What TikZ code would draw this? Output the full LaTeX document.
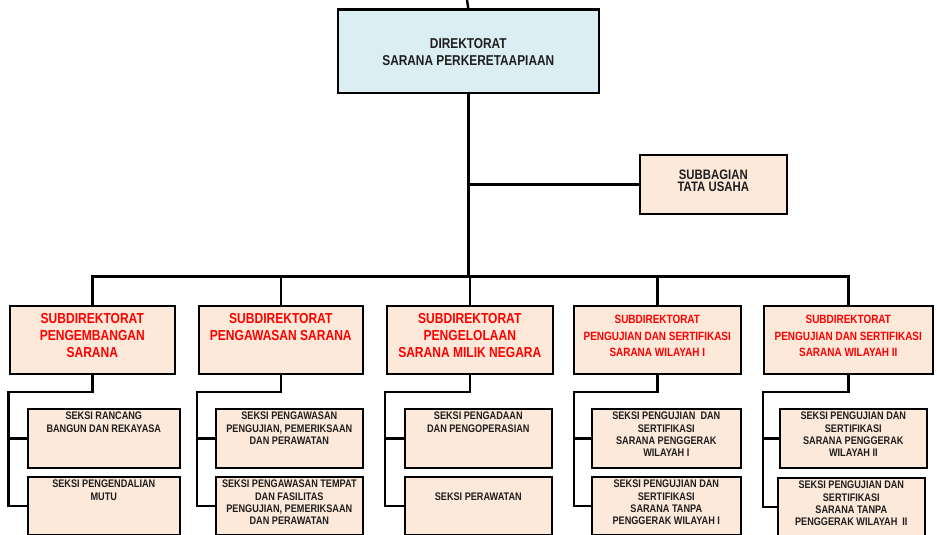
\documentclass[tikz,border=0pt]{standalone}
\usepackage{fontspec}
\setmainfont{Liberation Sans}[FakeStretch=0.83]
\definecolor{peach}{HTML}{FDE9D9}
\definecolor{lblue}{HTML}{DBEEF4}
\definecolor{dtext}{HTML}{1E1E1E}
\definecolor{rtext}{HTML}{FF0000}
\begin{document}
\begin{tikzpicture}[x=1pt,y=-1pt,
  box/.style={draw=black, line width=2.6pt, inner sep=0pt, anchor=north west, fill=peach},
  dirbox/.style={box, fill=lblue},
  conn/.style={draw=black, line width=2.4pt},
  txt/.style={inner sep=0pt, align=center, anchor=north, text=dtext},
  redbig/.style={txt, text=rtext, font=\bfseries\fontsize{14.5}{17}\selectfont},
  redsmall/.style={txt, text=rtext, font=\bfseries\fontsize{12}{16.5}\selectfont},
  seksitxt/.style={txt, font=\bfseries\fontsize{11}{12.3}\selectfont}
]
\useasboundingbox (0,0) rectangle (937,535);
\clip (0,0) rectangle (937,535);
\fill[white] (0,0) rectangle (937,535);

% top level
\node[dirbox, minimum width=261pt, minimum height=83pt] (dir) at (336.5,8.5) {};
\node[txt, anchor=center, font=\bfseries\fontsize{14.3}{17}\selectfont] (dirt) at ([yshift=-1pt]dir.center) {DIREKTORAT\\SARANA PERKERETAAPIAAN};

\node[box, minimum width=147pt, minimum height=59pt] (sub) at (638.5,153.5) {};
\node[txt, anchor=center, font=\bfseries\fontsize{13.7}{12}\selectfont] (subt) at ([yshift=4pt]sub.center) {SUBBAGIAN\\TATA USAHA};

% subdirectorates
\node[box, minimum width=165pt, minimum height=68pt] (sd1) at (8.5,304.5) {};
\node[box, minimum width=164pt, minimum height=68pt] (sd2) at (197.5,304.5) {};
\node[box, minimum width=166pt, minimum height=68pt] (sd3) at (385.5,304.5) {};
\node[box, minimum width=167pt, minimum height=68pt] (sd4) at (572.5,304.5) {};
\node[box, minimum width=169pt, minimum height=68pt] (sd5) at (762.5,304.5) {};

\node[redbig] (sd1t) at ([yshift=-8.5pt]sd1.north) {SUBDIREKTORAT\\PENGEMBANGAN\\SARANA};
\node[redbig] (sd2t) at ([yshift=-8.5pt]sd2.north) {SUBDIREKTORAT\\PENGAWASAN SARANA};
\node[redbig] (sd3t) at ([yshift=-8.5pt]sd3.north) {SUBDIREKTORAT\\PENGELOLAAN\\SARANA MILIK NEGARA};
\node[redsmall] (sd4t) at ([yshift=-10.5pt]sd4.north) {SUBDIREKTORAT\\PENGUJIAN DAN SERTIFIKASI\\SARANA WILAYAH I};
\node[redsmall] (sd5t) at ([yshift=-10.5pt]sd5.north) {SUBDIREKTORAT\\PENGUJIAN DAN SERTIFIKASI\\SARANA WILAYAH II};

% sections
\node[box, minimum width=152pt, minimum height=59pt] (s1a) at (26.5,407.5) {};
\node[box, minimum width=152pt, minimum height=58pt] (s1b) at (26.5,475.5) {};
\node[box, minimum width=147pt, minimum height=59pt] (s2a) at (214.5,407.5) {};
\node[box, minimum width=147pt, minimum height=58pt] (s2b) at (214.5,475.5) {};
\node[box, minimum width=147pt, minimum height=59pt] (s3a) at (403.5,407.5) {};
\node[box, minimum width=147pt, minimum height=58pt] (s3b) at (403.5,475.5) {};
\node[box, minimum width=149pt, minimum height=59pt] (s4a) at (590.5,407.5) {};
\node[box, minimum width=149pt, minimum height=58pt] (s4b) at (590.5,475.5) {};
\node[box, minimum width=147pt, minimum height=59pt] (s5a) at (778.5,407.5) {};
\node[box, minimum width=147pt, minimum height=58pt] (s5b) at (776.5,476.5) {};

\node[seksitxt] (s1at) at ([yshift=-4.5pt]s1a.north) {SEKSI RANCANG\\BANGUN DAN REKAYASA};
\node[seksitxt] (s1bt) at ([yshift=-4.5pt]s1b.north) {SEKSI PENGENDALIAN\\MUTU};
\node[seksitxt] (s2at) at ([yshift=-4.5pt]s2a.north) {SEKSI PENGAWASAN\\PENGUJIAN, PEMERIKSAAN\\DAN PERAWATAN};
\node[seksitxt] (s2bt) at ([yshift=-4.5pt]s2b.north) {SEKSI PENGAWASAN TEMPAT\\DAN FASILITAS\\PENGUJIAN, PEMERIKSAAN\\DAN PERAWATAN};
\node[seksitxt] (s3at) at ([yshift=-4.5pt]s3a.north) {SEKSI PENGADAAN\\DAN PENGOPERASIAN};
\node[seksitxt] (s3bt) at ([yshift=-17pt]s3b.north) {SEKSI PERAWATAN};
\node[seksitxt] (s4at) at ([yshift=-4.5pt]s4a.north) {SEKSI PENGUJIAN\ \ DAN\\SERTIFIKASI\\SARANA PENGGERAK\\WILAYAH I};
\node[seksitxt] (s4bt) at ([yshift=-4.5pt]s4b.north) {SEKSI PENGUJIAN DAN\\SERTIFIKASI\\SARANA TANPA\\PENGGERAK WILAYAH I};
\node[seksitxt] (s5at) at ([yshift=-4.5pt]s5a.north) {SEKSI PENGUJIAN DAN\\SERTIFIKASI\\SARANA PENGGERAK\\WILAYAH II};
\node[seksitxt] (s5bt) at ([yshift=-4.5pt]s5b.north) {SEKSI PENGUJIAN DAN\\SERTIFIKASI\\SARANA TANPA\\PENGGERAK WILAYAH\ \ II};

% connectors
\coordinate (topin) at (467,0);
\coordinate (busy) at (0,276.5);
\coordinate (j0) at (dir.south |- sub.west);
\draw[conn] (topin) -- (dir.north);
\draw[conn] (dir.south) -- (dir.south |- busy);
\draw[conn] (j0) -- (sub.west);
\draw[conn] (sd1.north) |- (sd5.north |- busy) -- (sd5.north);
\draw[conn] (sd2.north) -- (sd2.north |- busy);
\draw[conn] (sd3.north) -- (sd3.north |- busy);
\draw[conn] (sd4.north) -- (sd4.north |- busy);

\coordinate (k1) at (8.5,392);
\coordinate (k2) at (197,392);
\coordinate (k3) at (385,392);
\coordinate (k4) at (574,392);
\coordinate (k5) at (763,392);
\foreach \i in {1,...,5}{
  \draw[conn] (sd\i.south) |- (k\i) |- (s\i b.west);
  \draw[conn] (k\i) |- (s\i a.west);
}
\end{tikzpicture}
\end{document}
